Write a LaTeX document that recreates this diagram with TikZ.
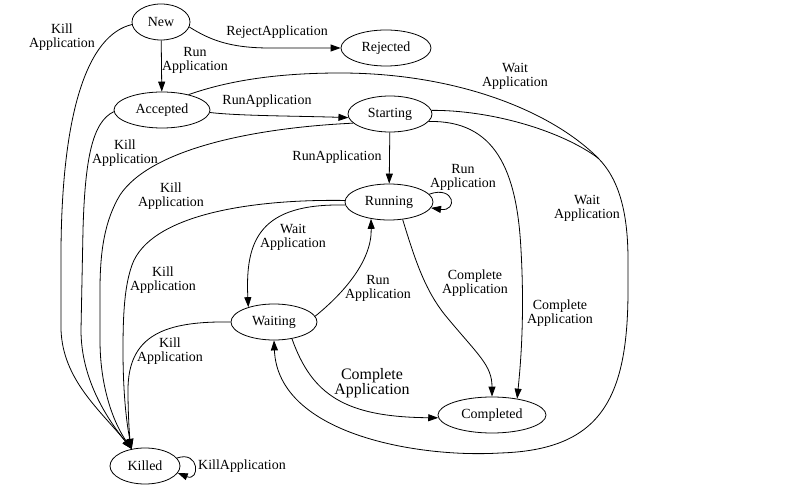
\documentclass[tikz,border=0pt]{standalone}
\usepackage{fontspec}
\setmainfont{Liberation Serif}
\usetikzlibrary{shapes.geometric}
\usetikzlibrary{arrows.meta}
\tikzstyle{state}=[%
  draw,
  ellipse,
  line width=0.8bp,
  inner sep=0pt,
  minimum height=36bp,
  font=\fontsize{14}{14}\selectfont
]
\tikzstyle{lbl}=[align=center, inner sep=0pt, font=\fontsize{14}{14}\selectfont]
\tikzstyle{trans}=[line width=0.8bp, -{Triangle[length=10bp, width=7bp]}]

\begin{document}
\begin{tikzpicture}[x=1bp, y=-1bp]
  \useasboundingbox (0,0) rectangle (810,488);
  \foreach \st/\x/\y/\w in {New/161/22/58, Rejected/386/48/90, Accepted/162/110/96,
      Starting/390/114/84, Running/389/202/88, Waiting/274/322/86,
      Completed/492/415/108, Killed/145/466/70} {%
    \node[state, minimum width=\w bp] (\st) at (\x,\y) {\st};
  }
  % edges out of New and Accepted
  \draw[trans] (New) -- (Accepted);
  \draw[trans] (New.-10) .. controls (210,40) and (230,48) .. (270,48) -- (Rejected.west);
  \draw[trans] (New.185) .. controls (88,35) and (62,110) .. (61,250) -- (61,330)
    .. controls (63,380) and (100,410) .. (Killed.128);
  \draw[trans] (Accepted.-3) .. controls (240,116) and (300,116) .. (Starting.185);
  \draw[trans] (Accepted.182) .. controls (92,122) and (85,160) .. (83,230) -- (81,330)
    .. controls (81,380) and (108,420) .. (Killed.128);
  % the two wait edges share one tail
  \coordinate (wmerge) at (598,158);
  \draw[line width=0.8bp] (Accepted.30) .. controls (230,80) and (280,73) .. (340,73)
    .. controls (455,73) and (550,110) .. (wmerge);
  \draw[line width=0.8bp] (Starting.5) .. controls (490,110) and (560,130) .. (wmerge);
  \draw[trans] (wmerge) .. controls (620,180) and (628,215) .. (628,260) -- (628,290)
    .. controls (628,400) and (600,450) .. (500,453)
    .. controls (420,458) and (278,435) .. (Waiting.south);
  % edges out of Starting
  \draw[trans] (Starting) -- (Running);
  \draw[trans] (Starting.194) .. controls (250,128) and (150,150) .. (120,195)
    .. controls (105,220) and (100,250) .. (100,290) -- (100,340)
    .. controls (100,390) and (115,425) .. (Killed.128);
  \draw[trans] (Starting.-11) .. controls (495,120) and (517,170) .. (521,250)
    .. controls (525,320) and (520,370) .. (Completed.33);
  % edges out of Running
  \draw[trans] (Running.11) .. controls (455,185) and (458,212) .. (Running.-8);
  \draw[trans] (Running.178) .. controls (250,199) and (150,215) .. (132,265)
    .. controls (125,285) and (123,310) .. (123,350)
    .. controls (123,390) and (126,420) .. (Killed.128);
  \draw[trans] (Running.184) .. controls (260,203) and (245,240) .. (Waiting.150);
  \draw[trans] (Running.-52) .. controls (415,260) and (425,290) .. (445,315)
    .. controls (478,355) and (492,365) .. (Completed.north);
  % edges out of Waiting and Killed
  \draw[trans] (Waiting.8) .. controls (345,292) and (372,260) .. (Running.223);
  \draw[trans] (Waiting.west) .. controls (165,321) and (128,335) .. (128,390)
    .. controls (128,420) and (130,440) .. (Killed.128);
  \draw[trans] (Waiting.-43) .. controls (312,395) and (345,417) .. (Completed.183);
  \draw[trans] (Killed.14) .. controls (200,450) and (200,482) .. (Killed.-12);
  % labels
  \foreach \x/\y/\txt [count=\i] in {62/37/Kill\\Application, 195/60/Run\\Application,
      277/32/RejectApplication, 267/101/RunApplication, 125/153/Kill\\Application,
      337/157/RunApplication, 171/196/Kill\\Application, 515/76/Wait\\Application,
      587/208/Wait\\Application, 463/177/Run\\Application, 293/237/Wait\\Application,
      163/280/Kill\\Application, 378/288/Run\\Application, 475/283/Complete\\Application,
      560/313/Complete\\Application, 170/351/Kill\\Application, 242/466/KillApplication} {%
    \node[lbl] (l\i) at (\x,\y) {\txt};
  }
  \node[lbl, font=\fontsize{16}{15.5}\selectfont] (lbig) at (372,383) {Complete\\Application};
\end{tikzpicture}
\end{document}
